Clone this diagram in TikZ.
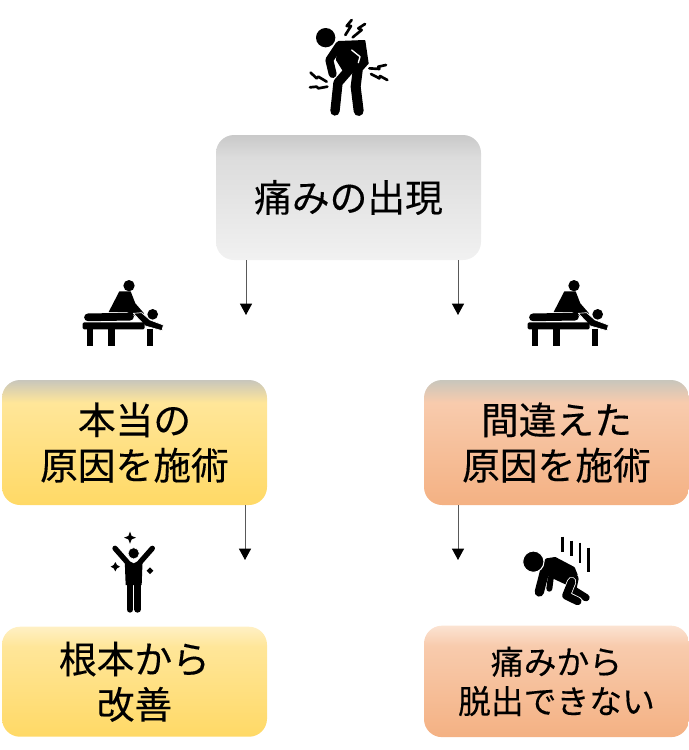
\documentclass[tikz,border=0pt]{standalone}
\usepackage{fontspec}
\setmainfont{Noto Sans CJK JP}[FakeBold=0.25]
\usetikzlibrary{positioning, arrows.meta}

\definecolor{graytop}{HTML}{C9C9C9}
\definecolor{graymid}{HTML}{DCDCDC}
\definecolor{graylow}{HTML}{F1F1F1}
\definecolor{bandtop}{HTML}{C8C6BC}
\definecolor{yellowpale}{HTML}{FFF0C4}
\definecolor{yellowmid}{HTML}{FFE699}
\definecolor{yellowlow}{HTML}{FFD966}
\definecolor{orangepale}{HTML}{FBE3D2}
\definecolor{orangemid}{HTML}{F8CBAD}
\definecolor{orangelow}{HTML}{F4B183}

\pgfdeclareverticalshading{grayfill}{100bp}{color(0bp)=(graylow); color(25bp)=(graylow);
    color(66bp)=(graymid); color(75bp)=(graytop); color(100bp)=(graytop)}
\pgfdeclareverticalshading{yellowfill}{100bp}{color(0bp)=(yellowlow); color(25bp)=(yellowlow);
    color(66bp)=(yellowmid); color(75bp)=(bandtop); color(100bp)=(bandtop)}
\pgfdeclareverticalshading{orangefill}{100bp}{color(0bp)=(orangelow); color(25bp)=(orangelow);
    color(66bp)=(orangemid); color(75bp)=(bandtop); color(100bp)=(bandtop)}
\pgfdeclareverticalshading{yellowsoft}{100bp}{color(0bp)=(yellowlow); color(25bp)=(yellowlow);
    color(66bp)=(yellowmid); color(75bp)=(yellowpale); color(100bp)=(yellowpale)}
\pgfdeclareverticalshading{orangesoft}{100bp}{color(0bp)=(orangelow); color(25bp)=(orangelow);
    color(66bp)=(orangemid); color(75bp)=(orangepale); color(100bp)=(orangepale)}

\tikzset{
    icon/.style={x=0.25pt, y=-0.25pt, line cap=round, line join=round},
    pics/painman/.style={code={\begin{scope}[icon]
        \fill (107,113) circle (29);
        \filldraw[line width=1pt] (146,125) -- (224,122) -- (234,190) -- (218,208) -- (160,212) -- (140,180) -- cycle;
        \draw[line width=6pt] (148,135) -- (118,180) -- (128,222);
        \draw[line width=7pt] (190,195) -- (144,248) -- (135,333);
        \draw[line width=7.5pt] (205,195) -- (197,260) -- (206,333);
        \draw[white, line width=1pt] (185,150) -- (210,170) -- (205,188);
        \foreach \bolt in {
            {(185,60) -- (170,78) -- (183,78) -- (166,105)},
            {(225,72) -- (205,85) -- (215,90) -- (188,112)},
            {(288,195) -- (265,200) -- (268,207) -- (238,205)},
            {(292,240) -- (270,228) -- (268,235) -- (243,222)},
            {(62,218) -- (80,235) -- (85,230) -- (110,245)},
            {(60,262) -- (80,260) -- (85,265) -- (112,260)}}
            {\draw[line width=2pt] \bolt;}
    \end{scope}}},
    pics/massage/.style={code={\begin{scope}[icon]
        \fill (177,47) circle (17);
        \fill (148,64) -- (182,64) -- (196,100) -- (222,130) -- (205,142) -- (170,126) -- (116,126) -- cycle;
        \draw[line width=5.8pt] (54,142) -- (180,140);
        \fill (248,133) circle (16);
        \filldraw[draw=white, line width=0.5pt] (190,130) -- (215,128) -- (240,150) -- (280,165) -- (276,182) -- (226,168) -- cycle;
        \fill[rounded corners=1pt] (38,157) rectangle (224,178);
        \fill (50,178) rectangle (69,228);
        \fill (115,178) rectangle (135,228);
        \fill (230,176) rectangle (249,228);
    \end{scope}}},
    pics/joyman/.style={code={\begin{scope}[icon]
        \draw[line width=4pt] (75,145) -- (112,187);
        \draw[line width=4pt] (187,145) -- (150,187);
        \fill (104,176) -- (131,190) -- (158,176) -- (155,255) -- (107,255) -- cycle;
        \filldraw[draw=white, line width=0.5pt] (131,160) circle (17);
        \draw[line width=5pt] (120,250) -- (120,328);
        \draw[line width=5pt] (143,250) -- (143,328);
        \foreach \px/\py/\rad in {120/113/18, 76/200/14, 180/212/10}
            {\fill (\px-\rad,\py) -- (\px-5,\py-5) -- (\px,\py-\rad) -- (\px+5,\py-5)
                -- (\px+\rad,\py) -- (\px+5,\py+5) -- (\px,\py+\rad) -- (\px-5,\py+5) -- cycle;}
    \end{scope}}},
    pics/fallenman/.style={code={\begin{scope}[icon]
        \filldraw[line width=2.5pt] (320,180) -- (345,176) -- (400,205) -- (408,225) -- (390,254) -- (328,225) -- (305,222) -- cycle;
        \draw[line width=7pt] (316,205) -- (298,276);
        \draw[line width=4.5pt] (332,235) -- (328,266);
        \draw[line width=5.5pt] (405,235) -- (398,268) -- (438,293);
        \draw[white, line width=7pt] (395,245) -- (378,287) -- (415,305);
        \draw[line width=5.8pt] (395,245) -- (378,287) -- (413,304);
        \filldraw[draw=white, line width=0.8pt] (280,185) circle (32);
        \foreach \px/\ptop/\pbot in {368/110/155, 395/122/168, 420/128/188, 445/143/215}
            {\draw[line width=1.8pt, line cap=butt] (\px,\ptop) -- (\px,\pbot);}
    \end{scope}}},
}

\begin{document}
\begin{tikzpicture}[
        x=0.75pt, y=-0.75pt,
        >={Triangle[length=8.5pt, width=9pt, black]},
        box/.style={rounded corners=13.5pt, minimum width=198.75pt, align=center,
                    inner sep=0pt, outer sep=0pt, font=\fontsize{28.3}{34}\selectfont},
        tallbox/.style={box, minimum height=93.75pt},
        lowbox/.style={box, minimum height=82.5pt},
        graybox/.style={tallbox, shading=grayfill},
        sure/.style={tallbox, shading=yellowfill},
        wrong/.style={tallbox, shading=orangefill},
        suregoal/.style={lowbox, shading=yellowsoft},
        wronggoal/.style={lowbox, minimum height=83.6pt, shading=orangesoft,
                          font=\fontsize{24.6}{29.5}\selectfont},
        flow/.style={->, draw=black!65, line width=0.75pt},
    ]
        \useasboundingbox (0,0) rectangle (689,750);

        % boxes
        \node[graybox] (pain) at (348.5,197.5) {痛みの出現};
        \node[sure] (trueCause) at (134.5,442.5) {本当の\\原因を施術};
        \node[wrong, right=117.75pt of trueCause] (falseCause) {間違えた\\原因を施術};
        \node[suregoal, below=91.3pt of trueCause] (cured) {根本から\\改善};
        \node[wronggoal, below=90.5pt of falseCause] (stuck) {痛みから\\脱出できない};

        % free ends of the arrows
        \coordinate (painL) at (246,315);
        \coordinate (painR) at (458,315);
        \coordinate (trueEnd) at (245,560);
        \coordinate (falseEnd) at (458,560);

        \draw[flow] (pain.south -| painL) -- (painL);
        \draw[flow] (pain.south -| painR) -- (painR);
        \draw[flow] (trueCause.south -| trueEnd) -- (trueEnd);
        \draw[flow] (falseCause.south -| falseEnd) -- (falseEnd);

        % icons
        \pic at (290,0) {painman};
        \pic at (70,270) {massage};
        \pic at (515,270) {massage};
        \pic at (90,500) {joyman};
        \pic at (440,500) {fallenman};
    \end{tikzpicture}
\end{document}
